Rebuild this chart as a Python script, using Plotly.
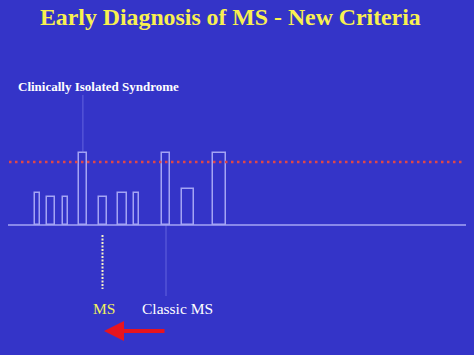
import plotly.graph_objects as go

# --- data ---
bar_heights = [32, 28, 28, 72, 28, 32, 32, 72, 36, 72]
threshold = 63
title_text = "Early Diagnosis of MS - New Criteria"
cis_label = "Clinically Isolated Syndrome"
ms_label = "MS"
classic_label = "Classic MS"

# --- layout positions (pixel-like axis units) ---
bar_left = [35.3, 47.0, 62.7, 78.5, 98.7, 118.3, 134.0, 161.5, 181.5, 213.0]
bar_right = [39.7, 55.3, 67.7, 87.3, 107.0, 126.7, 138.7, 170.3, 193.5, 225.7]
bar_x = [(l + r) / 2 for l, r in zip(bar_left, bar_right)]
bar_w = [r - l for l, r in zip(bar_left, bar_right)]

BG = "#3434c8"
OUTLINE = "#a4a4f4"

fig = go.Figure()

# faint connector lines
fig.add_trace(go.Scatter(x=[bar_x[3], bar_x[3]], y=[130, bar_heights[3]], mode="lines",
                         line=dict(color="rgba(140,140,240,0.55)", width=1), hoverinfo="skip"))
fig.add_trace(go.Scatter(x=[166, 166], y=[0, -71], mode="lines",
                         line=dict(color="rgba(140,140,240,0.55)", width=1), hoverinfo="skip"))
# dotted white line under bar 5
fig.add_trace(go.Scatter(x=[102.5, 102.5], y=[-10, -64], mode="lines",
                         line=dict(color="#f4f0c8", width=2, dash="2px,1.5px"), hoverinfo="skip"))

# bars
fig.add_trace(go.Bar(x=bar_x, y=bar_heights, width=bar_w, base=0,
                     marker=dict(color="rgba(0,0,0,0)", line=dict(color=OUTLINE, width=1.5)),
                     hoverinfo="skip"))

# baseline
fig.add_trace(go.Scatter(x=[8, 466], y=[0, 0], mode="lines",
                         line=dict(color=OUTLINE, width=1.5), hoverinfo="skip"))

# threshold dotted red line
fig.add_trace(go.Scatter(x=[9, 462], y=[threshold, threshold], mode="lines",
                         line=dict(color="#e04848", width=2.5, dash="2.5px,3.5px"), hoverinfo="skip"))

annotations = [
    dict(x=230, y=208, text="<b>" + title_text + "</b>", showarrow=False,
         font=dict(family="Liberation Serif", size=23.8, color="#f8f050")),
    dict(x=98, y=139, text="<b>" + cis_label + "</b>", showarrow=False,
         font=dict(family="Liberation Serif", size=13, color="white")),
    dict(x=104, y=-83, text=ms_label, showarrow=False,
         font=dict(family="Liberation Serif", size=15.5, color="#f0f060")),
    dict(x=177, y=-83, text=classic_label, showarrow=False,
         font=dict(family="Liberation Serif", size=15.5, color="white")),
    dict(x=104, y=-106, ax=166, ay=-106, xref="x", yref="y", axref="x", ayref="y",
         text="", showarrow=True, arrowhead=2, arrowsize=1.0, arrowwidth=4, arrowcolor="#e8141e"),
]

fig.update_layout(
    width=474, height=355,
    margin=dict(l=0, r=0, t=0, b=0),
    paper_bgcolor=BG, plot_bgcolor=BG,
    showlegend=False,
    xaxis=dict(range=[0, 474], visible=False, fixedrange=True),
    yaxis=dict(range=[-130, 225], visible=False, fixedrange=True),
    annotations=annotations,
    bargap=0,
)

fig.write_html("out.html")
